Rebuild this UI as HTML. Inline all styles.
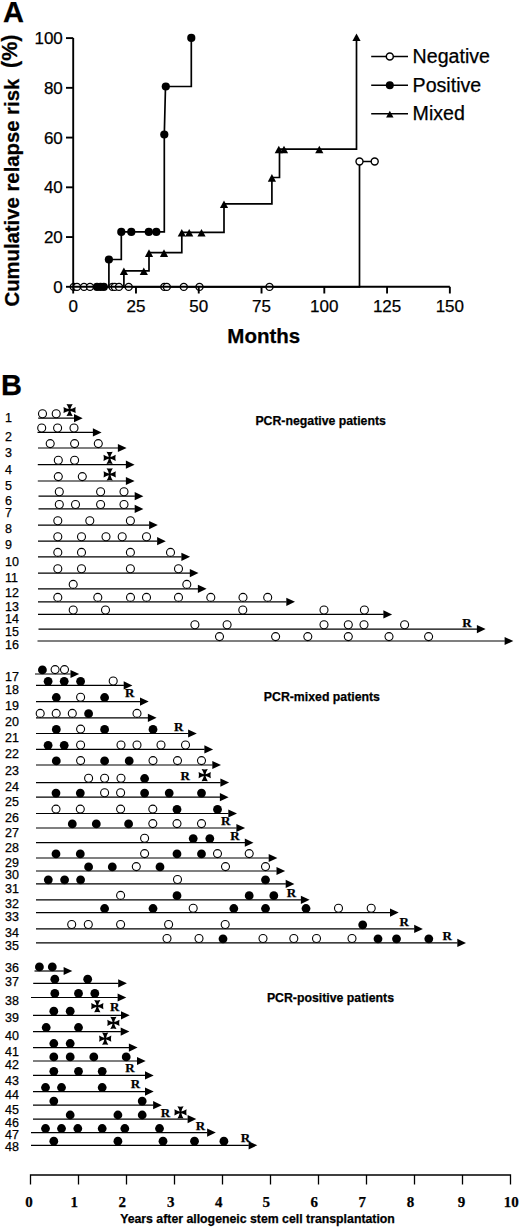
<!DOCTYPE html>
<html><head><meta charset="utf-8"><title>Figure</title><style>
html,body{margin:0;padding:0;background:#fff;}
svg{display:block;}
text{font-family:"Liberation Sans",sans-serif;fill:#000;stroke:#000;stroke-width:0.25px;}
.ax{fill:none;stroke:#000;stroke-width:1.9;}
.ln{fill:none;stroke:#000;stroke-width:1.7;}
.yl{font-size:17px;text-anchor:end;}
.xl{font-size:17px;text-anchor:middle;}
.lg{font-size:19.6px;}
.lgl{fill:none;stroke:#000;stroke-width:1.6;}
.pl{font-size:29px;font-weight:bold;}
.yt{font-size:20.3px;font-weight:bold;}
.xt{font-size:20.5px;font-weight:bold;text-anchor:middle;}
.rl{font-size:12.5px;}
.bl{fill:none;stroke:#000;stroke-width:1.2;}
.bl2{fill:none;stroke:#000;stroke-width:1.3;}
.R{font-family:"Liberation Serif",serif;font-weight:bold;font-size:13px;text-anchor:middle;}
.gt{font-size:12.3px;font-weight:bold;}
.bx{font-family:"Liberation Serif",serif;font-weight:bold;font-size:15px;text-anchor:middle;}
.btt{font-size:12.3px;font-weight:bold;text-anchor:middle;}
</style></head>
<body><svg width="520" height="1228" viewBox="0 0 520 1228">
<rect width="520" height="1228" fill="#fff"/>
<g><path d="M73,286.8 H108.9 V259.5 H121.3 V231.9 H164.3 V134.5 L165.5,86.5 H191.3 V37.9" class="ln"/><path d="M73,286.8 H123.9 V270.8 H149 V252.7 H181.8 V232.3 H224 V203.9 H271.9 V177.5 H279.5 V149.1 H356.5 V36.8" class="ln"/><path d="M73,286.8 H359.5 V161.5 H374.7" class="ln"/><circle cx="73.8" cy="286.9" r="3.5" fill="#fff" stroke="#000" stroke-width="1.4"/><circle cx="77" cy="286.9" r="3.5" fill="#fff" stroke="#000" stroke-width="1.4"/><circle cx="84" cy="286.9" r="3.5" fill="#fff" stroke="#000" stroke-width="1.4"/><circle cx="90" cy="286.9" r="3.5" fill="#fff" stroke="#000" stroke-width="1.4"/><circle cx="112.5" cy="286.9" r="3.5" fill="#fff" stroke="#000" stroke-width="1.4"/><circle cx="114.8" cy="286.9" r="3.5" fill="#fff" stroke="#000" stroke-width="1.4"/><circle cx="119" cy="286.9" r="3.5" fill="#fff" stroke="#000" stroke-width="1.4"/><circle cx="128.7" cy="286.9" r="3.5" fill="#fff" stroke="#000" stroke-width="1.4"/><circle cx="164.3" cy="286.9" r="3.5" fill="#fff" stroke="#000" stroke-width="1.4"/><circle cx="166.8" cy="286.9" r="3.5" fill="#fff" stroke="#000" stroke-width="1.4"/><circle cx="183.8" cy="286.9" r="3.5" fill="#fff" stroke="#000" stroke-width="1.4"/><circle cx="199.5" cy="286.9" r="3.5" fill="#fff" stroke="#000" stroke-width="1.4"/><circle cx="269.5" cy="286.9" r="3.5" fill="#fff" stroke="#000" stroke-width="1.4"/><circle cx="97" cy="286.9" r="4.1"/><circle cx="100.5" cy="286.9" r="4.1"/><circle cx="103.8" cy="286.9" r="4.1"/><circle cx="108.9" cy="259.5" r="4.1"/><circle cx="121.3" cy="231.9" r="4.1"/><circle cx="131.3" cy="231.9" r="4.1"/><circle cx="148.8" cy="231.9" r="4.1"/><circle cx="156.3" cy="231.9" r="4.1"/><circle cx="164.3" cy="134.5" r="4.1"/><circle cx="165.8" cy="86.5" r="4.1"/><circle cx="191.3" cy="37.9" r="4.1"/><circle cx="359.5" cy="161.5" r="3.5" fill="#fff" stroke="#000" stroke-width="1.4"/><circle cx="374.7" cy="161.5" r="3.5" fill="#fff" stroke="#000" stroke-width="1.4"/><path d="M123.9,267.4 L128,275 L119.8,275Z"/><path d="M143.8,267.4 L147.9,275 L139.7,275Z"/><path d="M149,249.3 L153.1,256.9 L144.9,256.9Z"/><path d="M164,249.3 L168.1,256.9 L159.9,256.9Z"/><path d="M181.8,228.9 L185.9,236.5 L177.7,236.5Z"/><path d="M189.2,228.9 L193.3,236.5 L185.1,236.5Z"/><path d="M201.5,228.9 L205.6,236.5 L197.4,236.5Z"/><path d="M224,200.5 L228.1,208.1 L219.9,208.1Z"/><path d="M271.9,174.1 L276,181.7 L267.8,181.7Z"/><path d="M278.8,145.7 L282.9,153.3 L274.7,153.3Z"/><path d="M284,145.7 L288.1,153.3 L279.9,153.3Z"/><path d="M319.3,145.7 L323.4,153.3 L315.2,153.3Z"/><path d="M356.5,33.4 L360.6,41 L352.4,41Z"/><path d="M371.2,56.5 H408" class="lgl"/><circle cx="389.8" cy="56.5" r="3.5" fill="#fff" stroke="#000" stroke-width="1.5"/><text x="412.6" y="63" class="lg">Negative</text><path d="M371.2,85.2 H408" class="lgl"/><circle cx="389.8" cy="85.2" r="4"/><text x="412.6" y="91.7" class="lg">Positive</text><path d="M371.2,113.8 H408" class="lgl"/><path d="M389.8,110.7 L393.5,117.6 L386.1,117.6Z"/><text x="412.6" y="120.3" class="lg">Mixed</text><path d="M73.2,38.1 V286.8 H449.85" class="ax"/><path d="M66,286.8 H73.2" class="ax"/><text x="62.8" y="292.9" class="yl">0</text><path d="M66,237.06 H73.2" class="ax"/><text x="62.8" y="243.16" class="yl">20</text><path d="M66,187.32 H73.2" class="ax"/><text x="62.8" y="193.42" class="yl">40</text><path d="M66,137.58 H73.2" class="ax"/><text x="62.8" y="143.68" class="yl">60</text><path d="M66,87.84 H73.2" class="ax"/><text x="62.8" y="93.94" class="yl">80</text><path d="M66,38.1 H73.2" class="ax"/><text x="62.8" y="44.2" class="yl">100</text><path d="M73.2,286.8 V293.5" class="ax"/><text x="73.2" y="312.3" class="xl">0</text><path d="M135.98,286.8 V293.5" class="ax"/><text x="135.98" y="312.3" class="xl">25</text><path d="M198.75,286.8 V293.5" class="ax"/><text x="198.75" y="312.3" class="xl">50</text><path d="M261.53,286.8 V293.5" class="ax"/><text x="261.53" y="312.3" class="xl">75</text><path d="M324.3,286.8 V293.5" class="ax"/><text x="324.3" y="312.3" class="xl">100</text><path d="M387.07,286.8 V293.5" class="ax"/><text x="387.07" y="312.3" class="xl">125</text><path d="M449.85,286.8 V293.5" class="ax"/><text x="449.85" y="312.3" class="xl">150</text><text x="3" y="21.6" class="pl">A</text><text transform="translate(18.6,306.5) rotate(-90)" class="yt">Cumulative relapse risk</text><text transform="translate(17.2,68) rotate(-90)" class="yt" style="font-size:21.5px">(%)</text><text x="263.8" y="343.4" class="xt">Months</text></g>
<g><text x="1" y="394.5" class="pl">B</text><text x="5" y="421.9" class="rl">1</text><path d="M38.2,418.2 H74.2" class="bl"/><path d="M74,414.1 L82.7,418.2 L74,422.3Z"/><circle cx="42.5" cy="413.8" r="4" fill="#fff" stroke="#000" stroke-width="1.1"/><circle cx="56.2" cy="413.8" r="4" fill="#fff" stroke="#000" stroke-width="1.1"/><path transform="translate(69.6,410)" d="M-3.1,-6.1 Q0,-5.4 3.1,-6.1 Q1.1,-2.9 0.9,-0.9 Q2.9,-1.1 6.1,-3.1 Q5.4,0 6.1,3.1 Q2.9,1.1 0.9,0.9 Q1.1,2.9 3.1,6.1 Q0,5.4 -3.1,6.1 Q-1.1,2.9 -0.9,0.9 Q-2.9,1.1 -6.1,3.1 Q-5.4,0 -6.1,-3.1 Q-2.9,-1.1 -0.9,-0.9 Q-1.1,-2.9 -3.1,-6.1 Z"/><text x="5" y="440.7" class="rl">2</text><path d="M37.5,432.4 H93.1" class="bl"/><path d="M92.9,428.3 L101.6,432.4 L92.9,436.5Z"/><circle cx="41.7" cy="428" r="4" fill="#fff" stroke="#000" stroke-width="1.1"/><circle cx="57.6" cy="428" r="4" fill="#fff" stroke="#000" stroke-width="1.1"/><circle cx="74" cy="428" r="4" fill="#fff" stroke="#000" stroke-width="1.1"/><text x="5" y="456.9" class="rl">3</text><path d="M38,448 H118.1" class="bl"/><path d="M117.9,443.9 L126.6,448 L117.9,452.1Z"/><circle cx="50.2" cy="443.6" r="4" fill="#fff" stroke="#000" stroke-width="1.1"/><circle cx="74.6" cy="443.6" r="4" fill="#fff" stroke="#000" stroke-width="1.1"/><circle cx="98.3" cy="443.6" r="4" fill="#fff" stroke="#000" stroke-width="1.1"/><text x="5" y="473.9" class="rl">4</text><path d="M37.8,464.7 H126.1" class="bl"/><path d="M125.9,460.6 L134.6,464.7 L125.9,468.8Z"/><circle cx="58.3" cy="460.3" r="4" fill="#fff" stroke="#000" stroke-width="1.1"/><circle cx="74.6" cy="460.3" r="4" fill="#fff" stroke="#000" stroke-width="1.1"/><path transform="translate(109.6,457.8)" d="M-3.1,-6.1 Q0,-5.4 3.1,-6.1 Q1.1,-2.9 0.9,-0.9 Q2.9,-1.1 6.1,-3.1 Q5.4,0 6.1,3.1 Q2.9,1.1 0.9,0.9 Q1.1,2.9 3.1,6.1 Q0,5.4 -3.1,6.1 Q-1.1,2.9 -0.9,0.9 Q-2.9,1.1 -6.1,3.1 Q-5.4,0 -6.1,-3.1 Q-2.9,-1.1 -0.9,-0.9 Q-1.1,-2.9 -3.1,-6.1 Z"/><text x="5" y="490" class="rl">5</text><path d="M37.8,481 H126.1" class="bl"/><path d="M125.9,476.9 L134.6,481 L125.9,485.1Z"/><circle cx="58.3" cy="476.6" r="4" fill="#fff" stroke="#000" stroke-width="1.1"/><circle cx="82.3" cy="476.6" r="4" fill="#fff" stroke="#000" stroke-width="1.1"/><path transform="translate(109.7,474.3)" d="M-3.1,-6.1 Q0,-5.4 3.1,-6.1 Q1.1,-2.9 0.9,-0.9 Q2.9,-1.1 6.1,-3.1 Q5.4,0 6.1,3.1 Q2.9,1.1 0.9,0.9 Q1.1,2.9 3.1,6.1 Q0,5.4 -3.1,6.1 Q-1.1,2.9 -0.9,0.9 Q-2.9,1.1 -6.1,3.1 Q-5.4,0 -6.1,-3.1 Q-2.9,-1.1 -0.9,-0.9 Q-1.1,-2.9 -3.1,-6.1 Z"/><text x="5" y="504.8" class="rl">6</text><path d="M38.5,496.2 H134.9" class="bl"/><path d="M134.7,492.1 L143.4,496.2 L134.7,500.3Z"/><circle cx="59.3" cy="491.8" r="4" fill="#fff" stroke="#000" stroke-width="1.1"/><circle cx="100.6" cy="491.8" r="4" fill="#fff" stroke="#000" stroke-width="1.1"/><circle cx="124" cy="491.8" r="4" fill="#fff" stroke="#000" stroke-width="1.1"/><text x="5" y="517.4" class="rl">7</text><path d="M38.5,508.9 H134.9" class="bl"/><path d="M134.7,504.8 L143.4,508.9 L134.7,513Z"/><circle cx="59.3" cy="504.5" r="4" fill="#fff" stroke="#000" stroke-width="1.1"/><circle cx="75.5" cy="504.5" r="4" fill="#fff" stroke="#000" stroke-width="1.1"/><circle cx="100.6" cy="504.5" r="4" fill="#fff" stroke="#000" stroke-width="1.1"/><circle cx="124" cy="504.5" r="4" fill="#fff" stroke="#000" stroke-width="1.1"/><text x="5" y="533.2" class="rl">8</text><path d="M38,525.1 H149.3" class="bl"/><path d="M149.1,521 L157.8,525.1 L149.1,529.2Z"/><circle cx="57.8" cy="520.7" r="4" fill="#fff" stroke="#000" stroke-width="1.1"/><circle cx="89.8" cy="520.7" r="4" fill="#fff" stroke="#000" stroke-width="1.1"/><circle cx="130.4" cy="520.7" r="4" fill="#fff" stroke="#000" stroke-width="1.1"/><text x="5" y="549.4" class="rl">9</text><path d="M38,541.2 H157.3" class="bl"/><path d="M157.1,537.1 L165.8,541.2 L157.1,545.3Z"/><circle cx="57.8" cy="536.8" r="4" fill="#fff" stroke="#000" stroke-width="1.1"/><circle cx="81.5" cy="536.8" r="4" fill="#fff" stroke="#000" stroke-width="1.1"/><circle cx="106" cy="536.8" r="4" fill="#fff" stroke="#000" stroke-width="1.1"/><circle cx="122.2" cy="536.8" r="4" fill="#fff" stroke="#000" stroke-width="1.1"/><circle cx="146.5" cy="536.8" r="4" fill="#fff" stroke="#000" stroke-width="1.1"/><text x="5" y="565.8" class="rl">10</text><path d="M38,556.8 H181.6" class="bl"/><path d="M181.4,552.7 L190.1,556.8 L181.4,560.9Z"/><circle cx="57.8" cy="552.4" r="4" fill="#fff" stroke="#000" stroke-width="1.1"/><circle cx="81.5" cy="552.4" r="4" fill="#fff" stroke="#000" stroke-width="1.1"/><circle cx="130.4" cy="552.4" r="4" fill="#fff" stroke="#000" stroke-width="1.1"/><circle cx="170.5" cy="552.4" r="4" fill="#fff" stroke="#000" stroke-width="1.1"/><text x="5" y="581.7" class="rl">11</text><path d="M38,573.1 H190" class="bl"/><path d="M189.8,569 L198.5,573.1 L189.8,577.2Z"/><circle cx="57.8" cy="568.7" r="4" fill="#fff" stroke="#000" stroke-width="1.1"/><circle cx="81.5" cy="568.7" r="4" fill="#fff" stroke="#000" stroke-width="1.1"/><circle cx="130.4" cy="568.7" r="4" fill="#fff" stroke="#000" stroke-width="1.1"/><circle cx="178.5" cy="568.7" r="4" fill="#fff" stroke="#000" stroke-width="1.1"/><text x="5" y="597.3" class="rl">12</text><path d="M38,588.8 H198.1" class="bl"/><path d="M197.9,584.7 L206.6,588.8 L197.9,592.9Z"/><circle cx="73.2" cy="584.4" r="4" fill="#fff" stroke="#000" stroke-width="1.1"/><circle cx="186.8" cy="584.4" r="4" fill="#fff" stroke="#000" stroke-width="1.1"/><text x="5" y="610.8" class="rl">13</text><path d="M38,601.8 H286.5" class="bl"/><path d="M286.3,597.7 L295,601.8 L286.3,605.9Z"/><circle cx="57.8" cy="597.4" r="4" fill="#fff" stroke="#000" stroke-width="1.1"/><circle cx="97.8" cy="597.4" r="4" fill="#fff" stroke="#000" stroke-width="1.1"/><circle cx="130.5" cy="597.4" r="4" fill="#fff" stroke="#000" stroke-width="1.1"/><circle cx="146.5" cy="597.4" r="4" fill="#fff" stroke="#000" stroke-width="1.1"/><circle cx="178.5" cy="597.4" r="4" fill="#fff" stroke="#000" stroke-width="1.1"/><circle cx="210.8" cy="597.4" r="4" fill="#fff" stroke="#000" stroke-width="1.1"/><circle cx="243" cy="597.4" r="4" fill="#fff" stroke="#000" stroke-width="1.1"/><circle cx="267.7" cy="597.4" r="4" fill="#fff" stroke="#000" stroke-width="1.1"/><text x="5" y="623.4" class="rl">14</text><path d="M38,614.4 H383.6" class="bl"/><path d="M383.4,610.3 L392.1,614.4 L383.4,618.5Z"/><circle cx="73.2" cy="610" r="4" fill="#fff" stroke="#000" stroke-width="1.1"/><circle cx="105.5" cy="610" r="4" fill="#fff" stroke="#000" stroke-width="1.1"/><circle cx="242.8" cy="610" r="4" fill="#fff" stroke="#000" stroke-width="1.1"/><circle cx="324" cy="610" r="4" fill="#fff" stroke="#000" stroke-width="1.1"/><circle cx="364.4" cy="610" r="4" fill="#fff" stroke="#000" stroke-width="1.1"/><text x="5" y="636.4" class="rl">15</text><path d="M38.5,629.1 H477.1" class="bl"/><path d="M476.9,625 L485.6,629.1 L476.9,633.2Z"/><circle cx="194.9" cy="624.7" r="4" fill="#fff" stroke="#000" stroke-width="1.1"/><circle cx="227.1" cy="624.7" r="4" fill="#fff" stroke="#000" stroke-width="1.1"/><circle cx="324" cy="624.7" r="4" fill="#fff" stroke="#000" stroke-width="1.1"/><circle cx="348.3" cy="624.7" r="4" fill="#fff" stroke="#000" stroke-width="1.1"/><circle cx="364" cy="624.7" r="4" fill="#fff" stroke="#000" stroke-width="1.1"/><circle cx="404.6" cy="624.7" r="4" fill="#fff" stroke="#000" stroke-width="1.1"/><text x="467" y="626.5" class="R">R</text><text x="5" y="649.2" class="rl">16</text><path d="M37.5,641 H504.8" class="bl"/><path d="M504.6,636.9 L513.3,641 L504.6,645.1Z"/><circle cx="219.5" cy="636.6" r="4" fill="#fff" stroke="#000" stroke-width="1.1"/><circle cx="275.6" cy="636.6" r="4" fill="#fff" stroke="#000" stroke-width="1.1"/><circle cx="307.8" cy="636.6" r="4" fill="#fff" stroke="#000" stroke-width="1.1"/><circle cx="348.3" cy="636.6" r="4" fill="#fff" stroke="#000" stroke-width="1.1"/><circle cx="389" cy="636.6" r="4" fill="#fff" stroke="#000" stroke-width="1.1"/><circle cx="428.6" cy="636.6" r="4" fill="#fff" stroke="#000" stroke-width="1.1"/><text x="5" y="680.9" class="rl">17</text><path d="M35,674 H70.7" class="bl"/><path d="M70.5,669.9 L79.2,674 L70.5,678.1Z"/><circle cx="42.4" cy="669.9" r="4.4"/><circle cx="55.1" cy="669.6" r="4" fill="#fff" stroke="#000" stroke-width="1.1"/><circle cx="64.5" cy="669.6" r="4" fill="#fff" stroke="#000" stroke-width="1.1"/><text x="5" y="693.9" class="rl">18</text><path d="M36,685.4 H123.9" class="bl"/><path d="M123.7,681.3 L132.4,685.4 L123.7,689.5Z"/><circle cx="48.1" cy="681.3" r="4.4"/><circle cx="64.2" cy="681.3" r="4.4"/><circle cx="80.6" cy="681.3" r="4.4"/><circle cx="113.2" cy="681" r="4" fill="#fff" stroke="#000" stroke-width="1.1"/><text x="129.8" y="696.7" class="R">R</text><text x="5" y="710.2" class="rl">19</text><path d="M36,701.6 H140.2" class="bl"/><path d="M140,697.5 L148.7,701.6 L140,705.7Z"/><circle cx="56.3" cy="697.5" r="4.4"/><circle cx="80.6" cy="697.2" r="4" fill="#fff" stroke="#000" stroke-width="1.1"/><circle cx="104.6" cy="697.5" r="4.4"/><text x="5" y="726.4" class="rl">20</text><path d="M36,717.8 H148.1" class="bl"/><path d="M147.9,713.7 L156.6,717.8 L147.9,721.9Z"/><circle cx="40.2" cy="713.4" r="4" fill="#fff" stroke="#000" stroke-width="1.1"/><circle cx="56.2" cy="713.4" r="4" fill="#fff" stroke="#000" stroke-width="1.1"/><circle cx="72.3" cy="713.4" r="4" fill="#fff" stroke="#000" stroke-width="1.1"/><circle cx="88.6" cy="713.7" r="4.4"/><circle cx="137" cy="713.4" r="4" fill="#fff" stroke="#000" stroke-width="1.1"/><text x="5" y="742.4" class="rl">21</text><path d="M36,733.5 H188.3" class="bl"/><path d="M188.1,729.4 L196.8,733.5 L188.1,737.6Z"/><circle cx="56.3" cy="729.4" r="4.4"/><circle cx="80.6" cy="729.1" r="4" fill="#fff" stroke="#000" stroke-width="1.1"/><circle cx="104.6" cy="729.4" r="4.4"/><circle cx="153" cy="729.4" r="4.4"/><text x="178.8" y="730.9" class="R">R</text><text x="5" y="758.4" class="rl">22</text><path d="M36,749.4 H204.6" class="bl"/><path d="M204.4,745.3 L213.1,749.4 L204.4,753.5Z"/><circle cx="48.1" cy="745.3" r="4.4"/><circle cx="64.2" cy="745.3" r="4.4"/><circle cx="80.6" cy="745" r="4" fill="#fff" stroke="#000" stroke-width="1.1"/><circle cx="121" cy="745" r="4" fill="#fff" stroke="#000" stroke-width="1.1"/><circle cx="137" cy="745" r="4" fill="#fff" stroke="#000" stroke-width="1.1"/><circle cx="161" cy="745" r="4" fill="#fff" stroke="#000" stroke-width="1.1"/><circle cx="185.5" cy="745" r="4" fill="#fff" stroke="#000" stroke-width="1.1"/><text x="5" y="774.8" class="rl">23</text><path d="M36,765 H212.5" class="bl"/><path d="M212.3,760.9 L221,765 L212.3,769.1Z"/><circle cx="56.3" cy="760.9" r="4.4"/><circle cx="80.6" cy="760.6" r="4" fill="#fff" stroke="#000" stroke-width="1.1"/><circle cx="104.6" cy="760.9" r="4.4"/><circle cx="129.2" cy="760.9" r="4.4"/><circle cx="153" cy="760.6" r="4" fill="#fff" stroke="#000" stroke-width="1.1"/><circle cx="177.5" cy="760.6" r="4" fill="#fff" stroke="#000" stroke-width="1.1"/><circle cx="201.5" cy="760.6" r="4" fill="#fff" stroke="#000" stroke-width="1.1"/><text x="5" y="791.1" class="rl">24</text><path d="M36,782.6 H220.6" class="bl"/><path d="M220.4,778.5 L229.1,782.6 L220.4,786.7Z"/><circle cx="88.6" cy="778.2" r="4" fill="#fff" stroke="#000" stroke-width="1.1"/><circle cx="104.6" cy="778.2" r="4" fill="#fff" stroke="#000" stroke-width="1.1"/><circle cx="121" cy="778.2" r="4" fill="#fff" stroke="#000" stroke-width="1.1"/><circle cx="144.6" cy="778.5" r="4.4"/><text x="185.1" y="780" class="R">R</text><path transform="translate(204.7,775.2)" d="M-3.1,-6.1 Q0,-5.4 3.1,-6.1 Q1.1,-2.9 0.9,-0.9 Q2.9,-1.1 6.1,-3.1 Q5.4,0 6.1,3.1 Q2.9,1.1 0.9,0.9 Q1.1,2.9 3.1,6.1 Q0,5.4 -3.1,6.1 Q-1.1,2.9 -0.9,0.9 Q-2.9,1.1 -6.1,3.1 Q-5.4,0 -6.1,-3.1 Q-2.9,-1.1 -0.9,-0.9 Q-1.1,-2.9 -3.1,-6.1 Z"/><text x="5" y="806.4" class="rl">25</text><path d="M36,797.2 H220.1" class="bl"/><path d="M219.9,793.1 L228.6,797.2 L219.9,801.3Z"/><circle cx="56" cy="793.1" r="4.4"/><circle cx="80.3" cy="793.1" r="4.4"/><circle cx="104.6" cy="792.8" r="4" fill="#fff" stroke="#000" stroke-width="1.1"/><circle cx="120.6" cy="792.8" r="4" fill="#fff" stroke="#000" stroke-width="1.1"/><circle cx="144.6" cy="793.1" r="4.4"/><circle cx="169.2" cy="793.1" r="4.4"/><circle cx="201.5" cy="793.1" r="4.4"/><text x="5" y="822.4" class="rl">26</text><path d="M36,813.5 H228.5" class="bl"/><path d="M228.3,809.4 L237,813.5 L228.3,817.6Z"/><circle cx="56" cy="809.1" r="4" fill="#fff" stroke="#000" stroke-width="1.1"/><circle cx="80.3" cy="809.1" r="4" fill="#fff" stroke="#000" stroke-width="1.1"/><circle cx="120.6" cy="809.1" r="4" fill="#fff" stroke="#000" stroke-width="1.1"/><circle cx="152.8" cy="809.1" r="4" fill="#fff" stroke="#000" stroke-width="1.1"/><circle cx="177" cy="809.4" r="4.4"/><circle cx="217.5" cy="809.4" r="4.4"/><text x="5" y="836.9" class="rl">27</text><path d="M36,828 H236.6" class="bl"/><path d="M236.4,823.9 L245.1,828 L236.4,832.1Z"/><circle cx="72.3" cy="823.9" r="4.4"/><circle cx="96.3" cy="823.9" r="4.4"/><circle cx="128.6" cy="823.9" r="4.4"/><circle cx="152.8" cy="823.6" r="4" fill="#fff" stroke="#000" stroke-width="1.1"/><circle cx="177" cy="823.6" r="4" fill="#fff" stroke="#000" stroke-width="1.1"/><circle cx="201.5" cy="823.6" r="4" fill="#fff" stroke="#000" stroke-width="1.1"/><text x="225.6" y="825.4" class="R">R</text><text x="5" y="851.7" class="rl">28</text><path d="M36,842.7 H245" class="bl"/><path d="M244.8,838.6 L253.5,842.7 L244.8,846.8Z"/><circle cx="144.6" cy="838.3" r="4" fill="#fff" stroke="#000" stroke-width="1.1"/><circle cx="193.2" cy="838.6" r="4.4"/><circle cx="209.8" cy="838.6" r="4.4"/><text x="235" y="840.1" class="R">R</text><text x="5" y="867.1" class="rl">29</text><path d="M36,858 H268.9" class="bl"/><path d="M268.7,853.9 L277.4,858 L268.7,862.1Z"/><circle cx="56" cy="853.9" r="4.4"/><circle cx="80.3" cy="853.9" r="4.4"/><circle cx="144.6" cy="853.6" r="4" fill="#fff" stroke="#000" stroke-width="1.1"/><circle cx="177" cy="853.9" r="4.4"/><circle cx="201.5" cy="853.9" r="4.4"/><circle cx="217.5" cy="853.6" r="4" fill="#fff" stroke="#000" stroke-width="1.1"/><circle cx="249.2" cy="853.6" r="4" fill="#fff" stroke="#000" stroke-width="1.1"/><text x="5" y="879.4" class="rl">30</text><path d="M36,871 H276.7" class="bl"/><path d="M276.5,866.9 L285.2,871 L276.5,875.1Z"/><circle cx="88.6" cy="866.9" r="4.4"/><circle cx="112.3" cy="866.9" r="4.4"/><circle cx="136.3" cy="866.6" r="4" fill="#fff" stroke="#000" stroke-width="1.1"/><circle cx="160" cy="866.9" r="4.4"/><circle cx="225.5" cy="866.6" r="4" fill="#fff" stroke="#000" stroke-width="1.1"/><circle cx="265.5" cy="866.6" r="4" fill="#fff" stroke="#000" stroke-width="1.1"/><text x="5" y="892.7" class="rl">31</text><path d="M36,883.9 H285.9" class="bl"/><path d="M285.7,879.8 L294.4,883.9 L285.7,888Z"/><circle cx="48.3" cy="879.8" r="4.4"/><circle cx="64.6" cy="879.8" r="4.4"/><circle cx="80.6" cy="879.8" r="4.4"/><circle cx="177.5" cy="879.5" r="4" fill="#fff" stroke="#000" stroke-width="1.1"/><circle cx="265.5" cy="879.8" r="4.4"/><text x="5" y="908.4" class="rl">32</text><path d="M36,899.8 H301.1" class="bl"/><path d="M300.9,895.7 L309.6,899.8 L300.9,903.9Z"/><circle cx="120.6" cy="895.4" r="4" fill="#fff" stroke="#000" stroke-width="1.1"/><circle cx="177" cy="895.7" r="4.4"/><circle cx="249.2" cy="895.7" r="4.4"/><circle cx="273.8" cy="895.7" r="4.4"/><text x="291.4" y="897.2" class="R">R</text><text x="5" y="921.4" class="rl">33</text><path d="M36,912.6 H390.2" class="bl"/><path d="M390,908.5 L398.7,912.6 L390,916.7Z"/><circle cx="104.6" cy="908.5" r="4.4"/><circle cx="153" cy="908.5" r="4.4"/><circle cx="193.2" cy="908.2" r="4" fill="#fff" stroke="#000" stroke-width="1.1"/><circle cx="233.8" cy="908.5" r="4.4"/><circle cx="265.5" cy="908.5" r="4.4"/><circle cx="306" cy="908.5" r="4.4"/><circle cx="338.5" cy="908.2" r="4" fill="#fff" stroke="#000" stroke-width="1.1"/><circle cx="371.2" cy="908.2" r="4" fill="#fff" stroke="#000" stroke-width="1.1"/><text x="5" y="937.4" class="rl">34</text><path d="M36,928.9 H414.4" class="bl"/><path d="M414.2,924.8 L422.9,928.9 L414.2,933Z"/><circle cx="71.7" cy="924.5" r="4" fill="#fff" stroke="#000" stroke-width="1.1"/><circle cx="88.3" cy="924.5" r="4" fill="#fff" stroke="#000" stroke-width="1.1"/><circle cx="120.6" cy="924.5" r="4" fill="#fff" stroke="#000" stroke-width="1.1"/><circle cx="168.6" cy="924.5" r="4" fill="#fff" stroke="#000" stroke-width="1.1"/><circle cx="225.2" cy="924.5" r="4" fill="#fff" stroke="#000" stroke-width="1.1"/><circle cx="362.7" cy="924.8" r="4.4"/><text x="404.2" y="926.3" class="R">R</text><text x="5" y="950.4" class="rl">35</text><path d="M36,942.9 H457.5" class="bl"/><path d="M457.3,938.8 L466,942.9 L457.3,947Z"/><circle cx="167" cy="938.5" r="4" fill="#fff" stroke="#000" stroke-width="1.1"/><circle cx="199" cy="938.5" r="4" fill="#fff" stroke="#000" stroke-width="1.1"/><circle cx="223" cy="938.8" r="4.4"/><circle cx="263" cy="938.5" r="4" fill="#fff" stroke="#000" stroke-width="1.1"/><circle cx="293.8" cy="938.5" r="4" fill="#fff" stroke="#000" stroke-width="1.1"/><circle cx="316.5" cy="938.5" r="4" fill="#fff" stroke="#000" stroke-width="1.1"/><circle cx="352" cy="938.5" r="4" fill="#fff" stroke="#000" stroke-width="1.1"/><circle cx="378" cy="938.8" r="4.4"/><circle cx="396.5" cy="938.8" r="4.4"/><circle cx="428.8" cy="938.8" r="4.4"/><text x="447.2" y="940.3" class="R">R</text><text x="5" y="972.4" class="rl">36</text><path d="M34.5,971 H63.8" class="bl"/><path d="M63.6,966.9 L72.3,971 L63.6,975.1Z"/><circle cx="39.4" cy="966.9" r="4.4"/><circle cx="52.3" cy="966.9" r="4.4"/><text x="5" y="986.4" class="rl">37</text><path d="M33.2,983.3 H118.4" class="bl"/><path d="M118.2,979.2 L126.9,983.3 L118.2,987.4Z"/><circle cx="54.8" cy="979.2" r="4.4"/><circle cx="87.7" cy="979.2" r="4.4"/><text x="5" y="1004.9" class="rl">38</text><path d="M31,997.5 H117.8" class="bl"/><path d="M117.6,993.4 L126.3,997.5 L117.6,1001.6Z"/><circle cx="54.8" cy="993.4" r="4.4"/><circle cx="78.5" cy="993.4" r="4.4"/><circle cx="94.8" cy="993.4" r="4.4"/><text x="5" y="1022.4" class="rl">39</text><path d="M33,1015.3 H121.2" class="bl"/><path d="M121,1011.2 L129.7,1015.3 L121,1019.4Z"/><circle cx="53.8" cy="1011.2" r="4.4"/><circle cx="70.2" cy="1011.2" r="4.4"/><path transform="translate(97.3,1006.2)" d="M-3.1,-6.1 Q0,-5.4 3.1,-6.1 Q1.1,-2.9 0.9,-0.9 Q2.9,-1.1 6.1,-3.1 Q5.4,0 6.1,3.1 Q2.9,1.1 0.9,0.9 Q1.1,2.9 3.1,6.1 Q0,5.4 -3.1,6.1 Q-1.1,2.9 -0.9,0.9 Q-2.9,1.1 -6.1,3.1 Q-5.4,0 -6.1,-3.1 Q-2.9,-1.1 -0.9,-0.9 Q-1.1,-2.9 -3.1,-6.1 Z"/><text x="114.6" y="1010.9" class="R">R</text><text x="5" y="1040" class="rl">40</text><path d="M33,1031.6 H120.9" class="bl"/><path d="M120.7,1027.5 L129.4,1031.6 L120.7,1035.7Z"/><circle cx="46.2" cy="1027.5" r="4.4"/><circle cx="78.5" cy="1027.5" r="4.4"/><path transform="translate(113.4,1022.8)" d="M-3.1,-6.1 Q0,-5.4 3.1,-6.1 Q1.1,-2.9 0.9,-0.9 Q2.9,-1.1 6.1,-3.1 Q5.4,0 6.1,3.1 Q2.9,1.1 0.9,0.9 Q1.1,2.9 3.1,6.1 Q0,5.4 -3.1,6.1 Q-1.1,2.9 -0.9,0.9 Q-2.9,1.1 -6.1,3.1 Q-5.4,0 -6.1,-3.1 Q-2.9,-1.1 -0.9,-0.9 Q-1.1,-2.9 -3.1,-6.1 Z"/><text x="5" y="1056.4" class="rl">41</text><path d="M33,1047.6 H129.1" class="bl"/><path d="M128.9,1043.5 L137.6,1047.6 L128.9,1051.7Z"/><circle cx="53.8" cy="1043.5" r="4.4"/><circle cx="70.2" cy="1043.5" r="4.4"/><path transform="translate(105.2,1038.7)" d="M-3.1,-6.1 Q0,-5.4 3.1,-6.1 Q1.1,-2.9 0.9,-0.9 Q2.9,-1.1 6.1,-3.1 Q5.4,0 6.1,3.1 Q2.9,1.1 0.9,0.9 Q1.1,2.9 3.1,6.1 Q0,5.4 -3.1,6.1 Q-1.1,2.9 -0.9,0.9 Q-2.9,1.1 -6.1,3.1 Q-5.4,0 -6.1,-3.1 Q-2.9,-1.1 -0.9,-0.9 Q-1.1,-2.9 -3.1,-6.1 Z"/><text x="5" y="1068.6" class="rl">42</text><path d="M33,1061 H137.2" class="bl"/><path d="M137,1056.9 L145.7,1061 L137,1065.1Z"/><circle cx="53.8" cy="1056.9" r="4.4"/><circle cx="70.2" cy="1056.9" r="4.4"/><circle cx="93.8" cy="1056.9" r="4.4"/><circle cx="126.2" cy="1056.9" r="4.4"/><text x="5" y="1084.6" class="rl">43</text><path d="M33,1075.4 H145.2" class="bl"/><path d="M145,1071.3 L153.7,1075.4 L145,1079.5Z"/><circle cx="53.8" cy="1071.3" r="4.4"/><circle cx="78.5" cy="1071.3" r="4.4"/><circle cx="102.2" cy="1071.3" r="4.4"/><text x="130" y="1072.1" class="R">R</text><text x="5" y="1099.1" class="rl">44</text><path d="M33,1091.6 H145.2" class="bl"/><path d="M145,1087.5 L153.7,1091.6 L145,1095.7Z"/><circle cx="45.5" cy="1087.5" r="4.4"/><circle cx="61.5" cy="1087.5" r="4.4"/><circle cx="102.2" cy="1087.5" r="4.4"/><text x="135.4" y="1088.3" class="R">R</text><text x="5" y="1114.4" class="rl">45</text><path d="M33,1105.2 H153.3" class="bl"/><path d="M153.1,1101.1 L161.8,1105.2 L153.1,1109.3Z"/><circle cx="53.8" cy="1101.1" r="4.4"/><circle cx="142.2" cy="1101.1" r="4.4"/><text x="5" y="1127.4" class="rl">46</text><path d="M33,1119.1 H187.8" class="bl"/><path d="M187.6,1115 L196.3,1119.1 L187.6,1123.2Z"/><circle cx="70.2" cy="1115" r="4.4"/><circle cx="117.9" cy="1115" r="4.4"/><circle cx="142.2" cy="1115" r="4.4"/><text x="165.5" y="1116.5" class="R">R</text><path transform="translate(180.5,1112.4)" d="M-3.1,-6.1 Q0,-5.4 3.1,-6.1 Q1.1,-2.9 0.9,-0.9 Q2.9,-1.1 6.1,-3.1 Q5.4,0 6.1,3.1 Q2.9,1.1 0.9,0.9 Q1.1,2.9 3.1,6.1 Q0,5.4 -3.1,6.1 Q-1.1,2.9 -0.9,0.9 Q-2.9,1.1 -6.1,3.1 Q-5.4,0 -6.1,-3.1 Q-2.9,-1.1 -0.9,-0.9 Q-1.1,-2.9 -3.1,-6.1 Z"/><text x="5" y="1139" class="rl">47</text><path d="M31,1132.6 H207.3" class="bl"/><path d="M207.1,1128.5 L215.8,1132.6 L207.1,1136.7Z"/><circle cx="45.5" cy="1128.5" r="4.4"/><circle cx="61.5" cy="1128.5" r="4.4"/><circle cx="77.8" cy="1128.5" r="4.4"/><circle cx="102.2" cy="1128.5" r="4.4"/><circle cx="124.8" cy="1128.5" r="4.4"/><circle cx="159.5" cy="1128.5" r="4.4"/><text x="200.5" y="1130" class="R">R</text><text x="5" y="1151.4" class="rl">48</text><path d="M31,1145.3 H248.8" class="bl"/><path d="M248.6,1141.2 L257.3,1145.3 L248.6,1149.4Z"/><circle cx="53.8" cy="1141.2" r="4.4"/><circle cx="117.9" cy="1141.2" r="4.4"/><circle cx="163" cy="1141.2" r="4.4"/><circle cx="194.5" cy="1141.2" r="4.4"/><circle cx="223.9" cy="1141.2" r="4.4"/><text x="245.5" y="1142" class="R">R</text><text x="255.4" y="424.6" class="gt">PCR-negative patients</text><text x="263.8" y="701" class="gt">PCR-mixed patients</text><text x="266.9" y="1001.5" class="gt">PCR-positive patients</text><path d="M30.5,1184.5 V1175 H510.5 V1184.5" class="bl2"/><text x="29" y="1206.6" class="bx">0</text><path d="M78.5,1175 V1184.5" class="bl2"/><text x="74.2" y="1206.6" class="bx">1</text><path d="M126.5,1175 V1184.5" class="bl2"/><text x="122.2" y="1206.6" class="bx">2</text><path d="M174.5,1175 V1184.5" class="bl2"/><text x="170.8" y="1206.6" class="bx">3</text><path d="M222.5,1175 V1184.5" class="bl2"/><text x="218.8" y="1206.6" class="bx">4</text><path d="M270.5,1175 V1184.5" class="bl2"/><text x="266.2" y="1206.6" class="bx">5</text><path d="M318.5,1175 V1184.5" class="bl2"/><text x="314.2" y="1206.6" class="bx">6</text><path d="M366.5,1175 V1184.5" class="bl2"/><text x="362.3" y="1206.6" class="bx">7</text><path d="M414.5,1175 V1184.5" class="bl2"/><text x="410.4" y="1206.6" class="bx">8</text><path d="M462.5,1175 V1184.5" class="bl2"/><text x="461.5" y="1206.6" class="bx">9</text><text x="511.2" y="1206.6" class="bx">10</text><text x="257.5" y="1222.8" class="btt">Years after allogeneic stem cell transplantation</text></g>
</svg></body></html>
